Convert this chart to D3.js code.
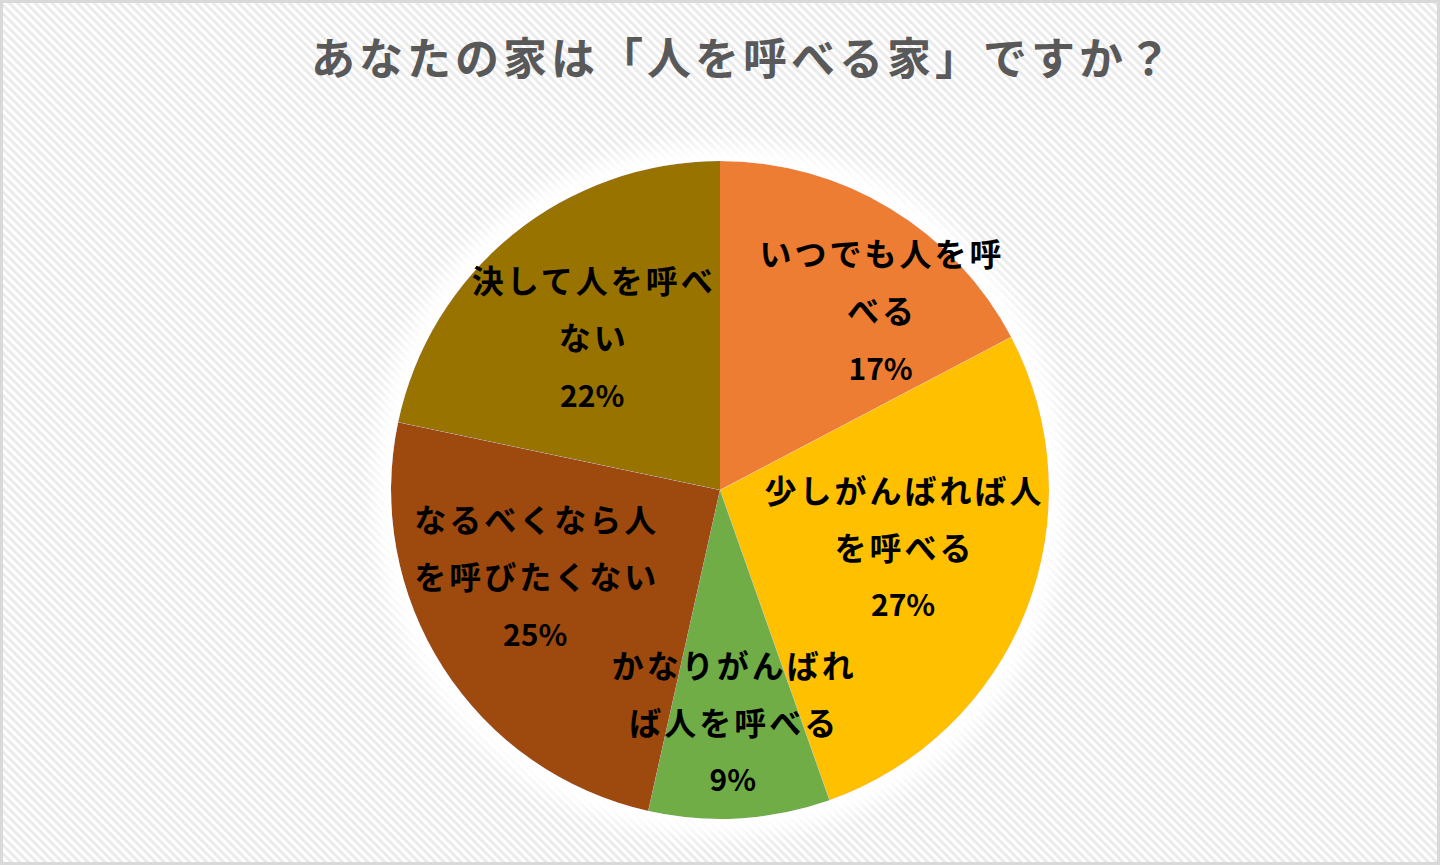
<!DOCTYPE html>
<html lang="ja">
<head>
<meta charset="utf-8">
<script src="https://d3js.org/d3.v7.min.js"></script>
<style>
  html, body { margin: 0; padding: 0; background: #fff; }
  svg { display: block; }
</style>
</head>
<body>
<svg id="chart"></svg>
<script>
// answers, clockwise from 12 o'clock
const categories = [
  "いつでも人を呼べる",
  "少しがんばれば人を呼べる",
  "かなりがんばれば人を呼べる",
  "なるべくなら人を呼びたくない",
  "決して人を呼べない"
];
// share of answers (%)
const shares = [17.3, 27.3, 8.9, 24.8, 21.7];
// label text split the way the chart wraps it
const labelLines = [
  ["いつでも人を呼", "べる"],
  ["少しがんばれば人", "を呼べる"],
  ["かなりがんばれ", "ば人を呼べる"],
  ["なるべくなら人", "を呼びたくない"],
  ["決して人を呼べ", "ない"]
];
const colors = ["#ED7D31", "#FFC000", "#70AD47", "#9E480E", "#997300"];
const title = "あなたの家は「人を呼べる家」ですか？";

const W = 1440, H = 865;
const cx = 720, cy = 490, R = 329;
// manual nudges of the data labels (px), like dragged labels in the original
const labelNudge = [[50, 5], [-16, -20], [0, 20], [-5, -28], [7, 15]];

const svg = d3.select("#chart").attr("width", W).attr("height", H);
const defs = svg.append("defs");

// diagonal stripe background
const pat = defs.append("pattern")
  .attr("id", "stripes")
  .attr("patternUnits", "userSpaceOnUse")
  .attr("width", 6).attr("height", 6)
  .attr("patternTransform", "rotate(45)");
pat.append("rect").attr("width", 6).attr("height", 6).attr("fill", "#ffffff");
pat.append("rect").attr("width", 6).attr("height", 3).attr("fill", "#ebebeb");

// soft white glow around the pie
const glow = defs.append("filter").attr("id", "glow")
  .attr("x", "-25%").attr("y", "-25%").attr("width", "150%").attr("height", "150%");
glow.append("feMorphology").attr("in", "SourceAlpha").attr("operator", "dilate").attr("radius", 10).attr("result", "fat");
glow.append("feGaussianBlur").attr("in", "fat").attr("stdDeviation", 12).attr("result", "blur");
glow.append("feFlood").attr("flood-color", "#ffffff").attr("flood-opacity", 1);
glow.append("feComposite").attr("in2", "blur").attr("operator", "in").attr("result", "white");
const merge = glow.append("feMerge");
merge.append("feMergeNode").attr("in", "white");
merge.append("feMergeNode").attr("in", "white");
merge.append("feMergeNode").attr("in", "SourceGraphic");

svg.append("rect")
  .attr("x", 1.5).attr("y", 1.5)
  .attr("width", W - 3).attr("height", H - 3)
  .attr("fill", "url(#stripes)")
  .attr("stroke", "#d9d9d9").attr("stroke-width", 3);

svg.append("text")
  .attr("x", 743).attr("y", 75)
  .attr("text-anchor", "middle")
  .attr("font-family", "'Noto Sans CJK JP', sans-serif")
  .attr("font-weight", 700)
  .attr("font-size", 44)
  .attr("letter-spacing", 4)
  .attr("fill", "#595959")
  .text(title);

const data = categories.map((c, i) => ({ name: c, value: shares[i], i: i }));

const pie = d3.pie().value(d => d.value).sort(null);
const arc = d3.arc().innerRadius(0).outerRadius(R);
const labelArc = d3.arc().innerRadius(R * 0.65).outerRadius(R * 0.65);

const g = svg.append("g").attr("transform", `translate(${cx},${cy})`);
const arcs = pie(data);

g.append("g").attr("filter", "url(#glow)")
  .selectAll("path")
  .data(arcs)
  .enter().append("path")
  .attr("d", arc)
  .attr("fill", d => colors[d.data.i]);

const lineH = 57;
const labels = g.selectAll(".lbl")
  .data(arcs)
  .enter().append("g")
  .attr("class", "lbl")
  .attr("transform", d => {
    const [x, y] = labelArc.centroid(d);
    const n = labelNudge[d.data.i];
    return `translate(${x + n[0]},${y + n[1]})`;
  });

labels.each(function (d) {
  const lines = labelLines[d.data.i].concat([Math.round(d.data.value) + "%"]);
  const sel = d3.select(this);
  lines.forEach((t, k) => {
    const isPct = k === lines.length - 1;
    sel.append("text")
      .attr("x", isPct ? 0 : 1.5)
      .attr("y", (k - 1) * lineH)
      .attr("dy", "0.36em")
      .attr("text-anchor", "middle")
      .attr("font-family", "'Noto Sans CJK JP', sans-serif")
      .attr("font-weight", 700)
      .attr("font-size", isPct ? 30 : 32)
      .attr("letter-spacing", isPct ? 0 : 3)
      .attr("fill", "#000")
      .text(t);
  });
});
</script>
</body>
</html>
